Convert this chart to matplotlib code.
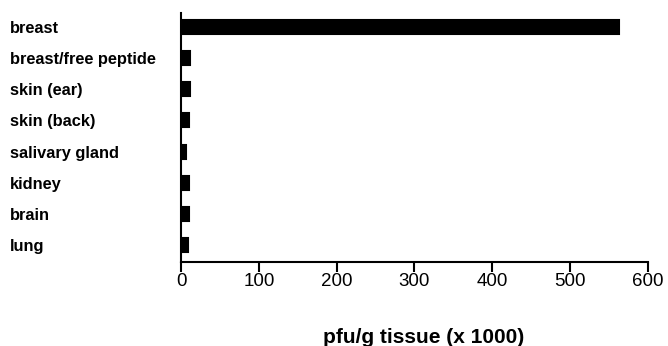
import matplotlib.pyplot as plt

# tissue titers
tissues = ["breast", "breast/free peptide", "skin (ear)", "skin (back)",
           "salivary gland", "kidney", "brain", "lung"]
titers = [563, 11, 11, 10, 7, 10, 10, 9]

plt.rcParams['font.family'] = ['Liberation Sans', 'DejaVu Sans']

fig = plt.figure(figsize=(6.68, 3.46), dpi=100)
ax = fig.add_axes([0.271, 0.243, 0.699, 0.719])

pos = list(range(len(tissues)))
ax.barh(pos, titers, height=0.45, color='black', edgecolor='black', linewidth=1.5)

ax.set_xlim(0, 600)
ax.set_ylim(7.55, -0.45)
ax.set_xticks([0, 100, 200, 300, 400, 500, 600])
ax.set_yticks(pos)
ax.set_yticklabels(tissues, fontsize=11.8, fontweight='bold', ha='left')
ax.tick_params(axis='y', length=0, pad=123)
ax.tick_params(axis='x', length=7, width=1.5, labelsize=13.5, pad=1)

for s in ['top', 'right']:
    ax.spines[s].set_visible(False)
ax.spines['left'].set_linewidth(1.5)
ax.spines['bottom'].set_linewidth(1.5)

ax.set_xlabel("pfu/g tissue (x 1000)", fontsize=15, fontweight='bold')
ax.xaxis.set_label_coords(0.52, -0.265)

fig.savefig("out.png", dpi=100)
